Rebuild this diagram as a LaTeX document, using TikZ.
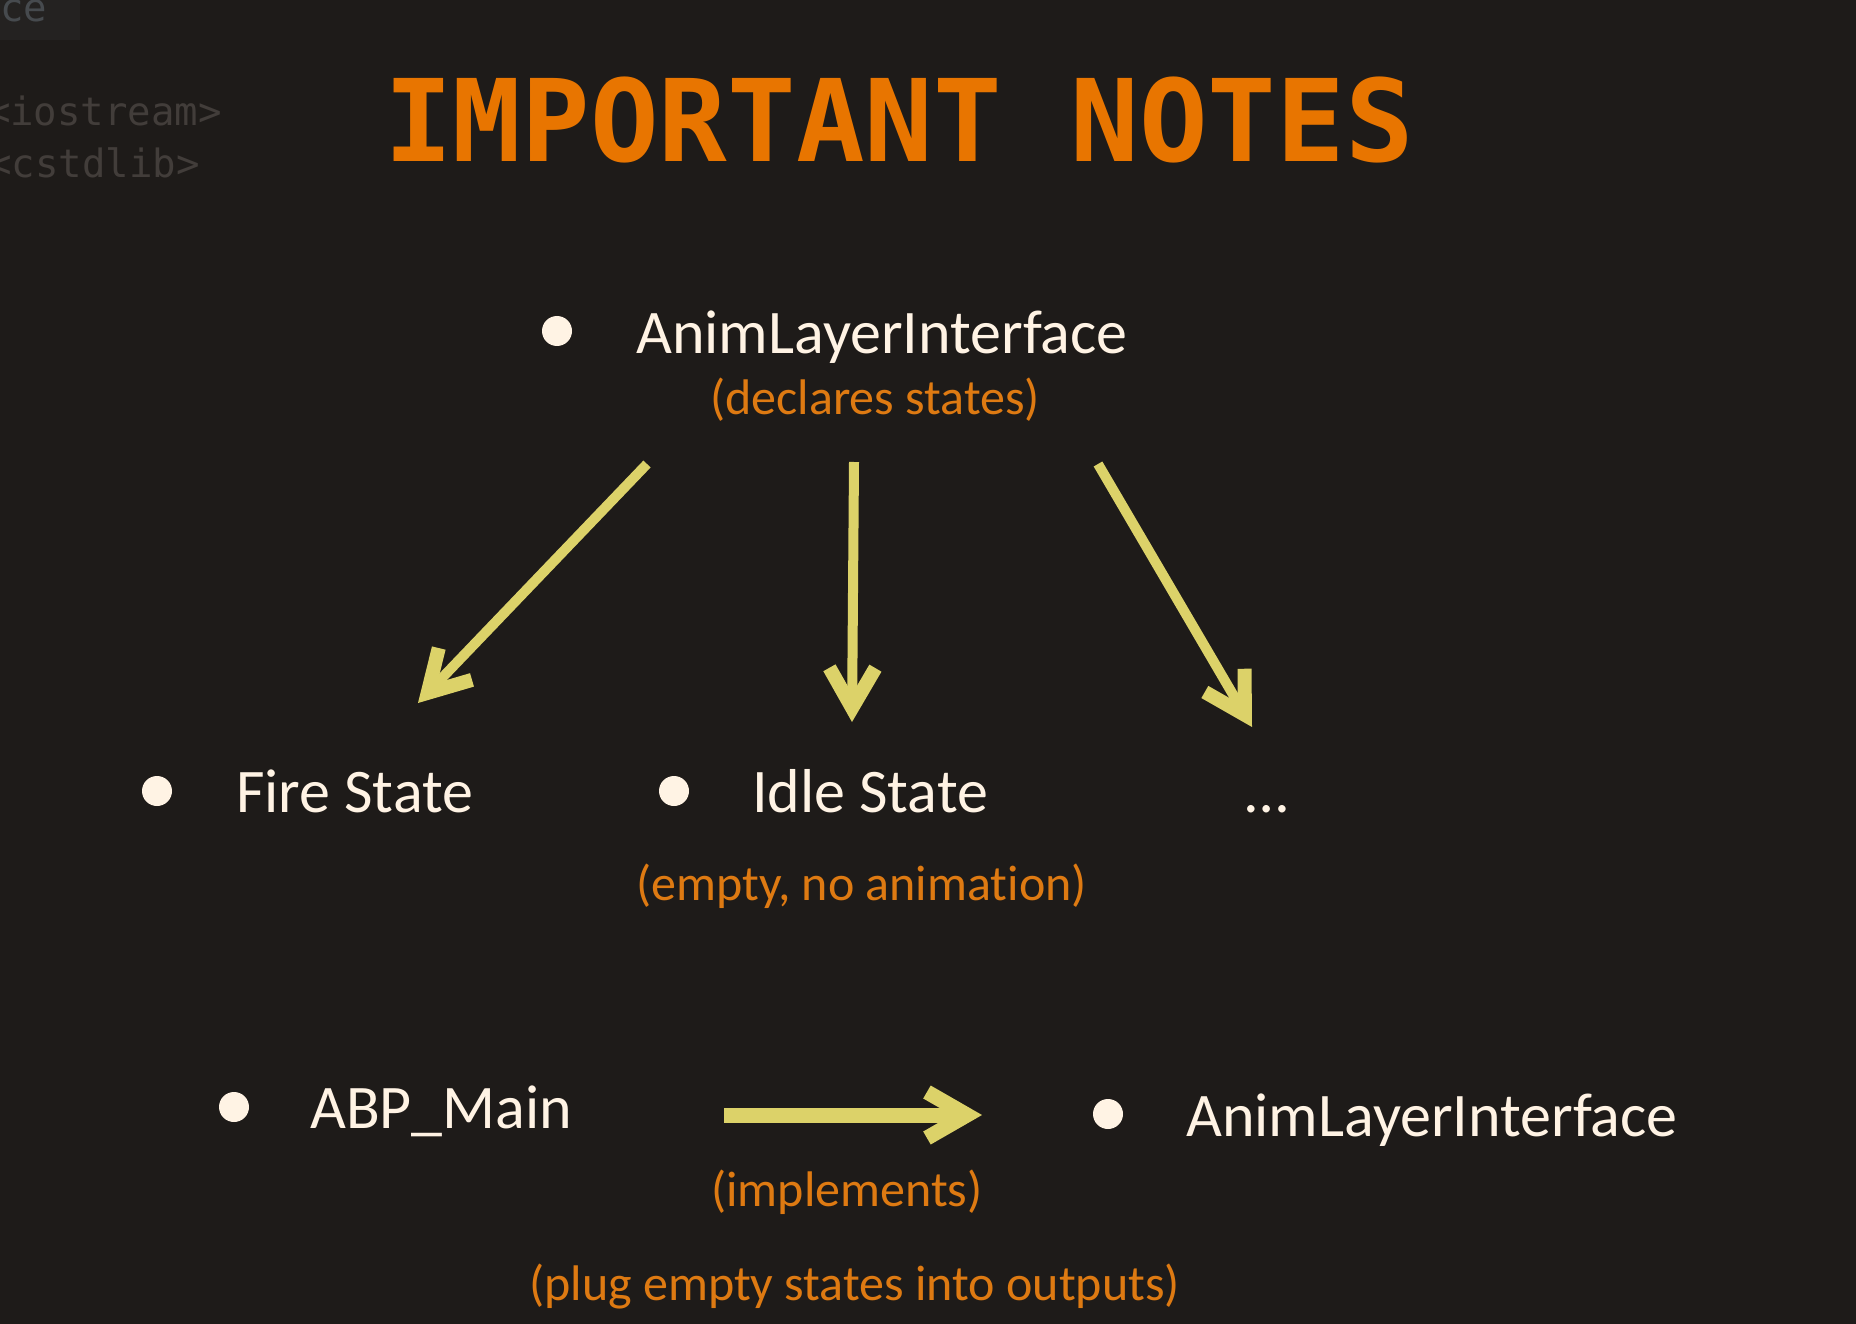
\documentclass[tikz,border=0pt]{standalone}
\usepackage{fontspec}
\setmainfont{Carlito}[Ligatures=NoCommon]
\newfontfamily\titlefont{DejaVu Sans Mono}
\newfontfamily\codefont{DejaVu Sans Mono}
\usepackage{xcolor}
\usepackage{tikz}
\usetikzlibrary{arrows.meta}
\definecolor{bgc}{RGB}{30,27,25}
\definecolor{tabc}{RGB}{36,34,33}
\definecolor{tabtxt}{RGB}{70,74,78}
\definecolor{codegray}{RGB}{66,61,58}
\definecolor{titleor}{RGB}{232,117,0}
\definecolor{noteor}{RGB}{222,122,18}
\definecolor{cream}{RGB}{255,243,228}
\definecolor{arrowy}{RGB}{220,210,105}
\tikzset{
  px/.style={x=1pt, y=-1pt},
  n title/.style={font=\titlefont\bfseries\fontsize{114}{120}\selectfont, text=titleor, inner sep=0pt, anchor=base},
  n item/.style={font=\fontsize{62}{70}\selectfont, text=cream, inner sep=0pt, anchor=base west},
  n note/.style={font=\fontsize{50}{60}\selectfont, text=noteor, inner sep=0pt, anchor=base west},
  n dot/.style={circle, fill=cream, inner sep=0pt, minimum size=30pt},
  n code/.style={font=\codefont\fontsize{39}{45}\selectfont, text=codegray, inner sep=0pt, anchor=base east},
  u arr/.style={draw=arrowy, line width=10pt, -{Straight Barb[length=40pt, width=46pt, line width=14pt]}},
  u impl/.style={draw=arrowy, line width=15pt, -{Straight Barb[length=40pt, width=46pt, line width=15pt]}},
}
\begin{document}
\begin{tikzpicture}[px]
\fill[bgc] (0,0) rectangle (1856,1324);
\useasboundingbox (0,0) rectangle (1856,1324);
% ---- faint code behind ----
\fill[tabc] (0,0) rectangle (80,40);
\node[n code, text=tabtxt, anchor=base west] (k0) at (0,22) {ce};
\node[n code] (k1) at (222,126) {<iostream>};
\node[n code] (k2) at (200,178) {<cstdlib>};
% ---- title ----
\node[n title] (t0) at (899,162) {IMPORTANT NOTES};
% ---- interface ----
\node[n dot] (d1) at (557,331) {};
\node[n item] (a1) at (636,353) {AnimLayerInterface};
\node[n note] (a2) at (710,414) {(declares states)};
% ---- states ----
\node[n dot] (d2) at (157,791) {};
\node[n item] (b1) at (236,812) {Fire State};
\node[n dot] (d3) at (674,791) {};
\node[n item] (b2) at (752,812) {Idle State};
\node[n item, anchor=base] (b3) at (1267,812) {…};
\node[n note] (b4) at (636,900) {(empty, no animation)};
\coordinate (s1) at (647,464); \coordinate (e1) at (418,703);
\coordinate (s2) at (854,462); \coordinate (e2) at (852,722);
\coordinate (s3) at (1098,464); \coordinate (e3) at (1252,727);
\draw[u arr] (s1) -- (e1);
\draw[u arr] (s2) -- (e2);
\draw[u arr] (s3) -- (e3);
% ---- implementation ----
\node[n dot] (d4) at (234,1107) {};
\node[n item] (c1) at (310,1128) {ABP\_Main};
\node[n dot] (d5) at (1108,1114) {};
\node[n item] (c2) at (1186,1136) {AnimLayerInterface};
\node[n note] (c3) at (711,1206) {(implements)};
\node[n note] (c4) at (529,1300) {(plug empty states into outputs)};
\coordinate (s4) at (724,1115); \coordinate (e4) at (982,1115);
\draw[u impl] (s4) -- (e4);
\end{tikzpicture}
\end{document}
